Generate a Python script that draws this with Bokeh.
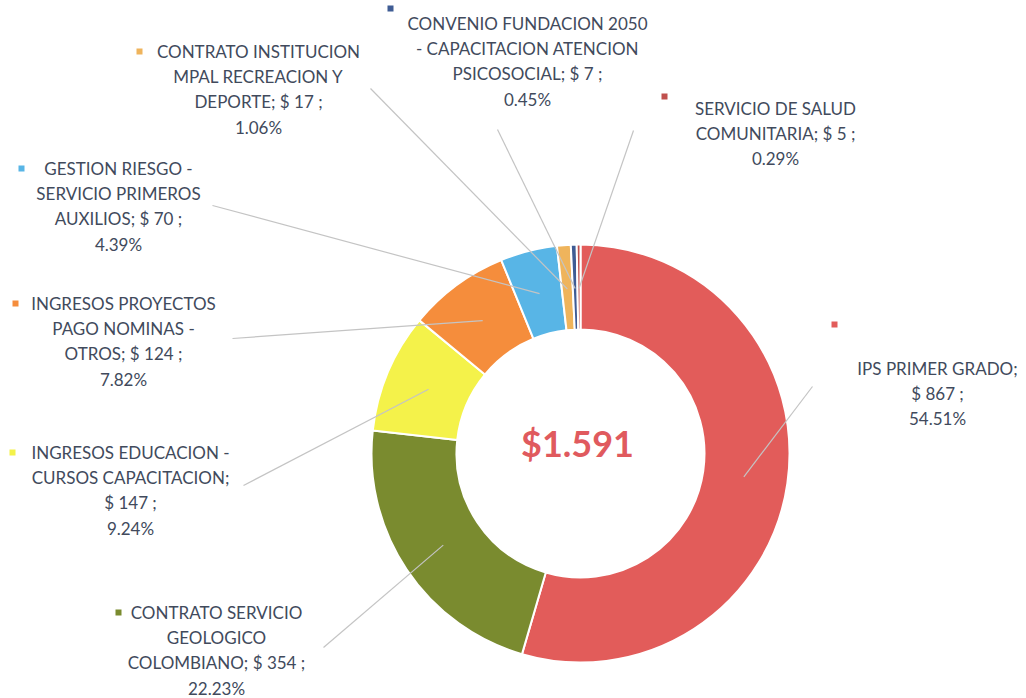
import math
from bokeh.plotting import figure
from bokeh.models import Range1d, ColumnDataSource
from bokeh.core.properties import value
from bokeh.embed import file_html
from bokeh.resources import INLINE

# ---------------- data ----------------
name_lines = [
    ["IPS PRIMER GRADO"],
    ["CONTRATO SERVICIO", "GEOLOGICO", "COLOMBIANO"],
    ["INGRESOS EDUCACION -", "CURSOS CAPACITACION"],
    ["INGRESOS PROYECTOS", "PAGO NOMINAS -", "OTROS"],
    ["GESTION RIESGO -", "SERVICIO PRIMEROS", "AUXILIOS"],
    ["CONTRATO INSTITUCION", "MPAL RECREACION Y", "DEPORTE"],
    ["CONVENIO FUNDACION 2050", "- CAPACITACION ATENCION", "PSICOSOCIAL"],
    ["SERVICIO DE SALUD", "COMUNITARIA"],
]
categories = [" ".join(n) for n in name_lines]
values = [867, 354, 147, 124, 70, 17, 7, 5]
percents = [54.51, 22.23, 9.24, 7.82, 4.39, 1.06, 0.45, 0.29]
total_label = "$1.591"
colors = ["#E25C5A", "#7A8B2F", "#F4F24A", "#F58D3C", "#58B5E6", "#EFB45C", "#3F5C94", "#C0504D"]

# ---------------- layout ----------------
W, H = 1026, 698
CX, CY = 580, 453          # donut centre (page px, y down)
R_OUT, R_IN = 209, 124
R_LEAD = 165
value_newline = [True, False, True, False, False, False, False, False]
# label block: centre x, first line y, marker x, marker y, leader anchor x, y
label_layout = [
    (937, 368, 834, 324, 812, 386),
    (216, 612, 118, 612, 323, 647),
    (130, 452, 12, 452, 243, 485),
    (123, 303, 15, 303, 232, 338),
    (118, 168, 21, 168, 212, 205),
    (258, 51, 139, 51, 370, 88),
    (527, 23, 390, 8, 497, 129),
    (775, 108, 664, 96, 633, 130),
]
LINE_H = 25.2

def Y(y):
    return H - y

p = figure(width=W, height=H, output_backend="svg", toolbar_location=None,
           x_range=Range1d(0, W), y_range=Range1d(0, H),
           min_border=0)
p.axis.visible = False
p.grid.visible = False
p.outline_line_color = None
p.background_fill_color = "white"
p.border_fill_color = "white"

tot = sum(percents)
starts, ends, mids = [], [], []
cum = 0.0
for pc in percents:
    a0 = math.pi / 2 - 2 * math.pi * cum / tot
    cum += pc
    a1 = math.pi / 2 - 2 * math.pi * cum / tot
    starts.append(a0)
    ends.append(a1)
    mids.append((a0 + a1) / 2)

src = ColumnDataSource(dict(x=[CX] * len(values), y=[Y(CY)] * len(values),
                            start=starts, end=ends, color=colors))
p.annular_wedge(x="x", y="y", inner_radius=R_IN, outer_radius=R_OUT,
                start_angle="start", end_angle="end", direction="clock",
                fill_color="color", line_color="white", line_width=2, source=src)

# leader lines
lx0, ly0, lx1, ly1 = [], [], [], []
for i, m in enumerate(mids):
    ax, ay = label_layout[i][4], label_layout[i][5]
    lx0.append(ax)
    ly0.append(Y(ay))
    lx1.append(CX + R_LEAD * math.cos(m))
    ly1.append(Y(CY) + R_LEAD * math.sin(m))
p.segment(lx0, ly0, lx1, ly1, line_color="#c4c4c4", line_width=1.2)

# labels
tx, ty, tt = [], [], []
for i in range(len(values)):
    lines = list(name_lines[i])
    vtxt = f"$ {values[i]} ;"
    if value_newline[i]:
        lines[-1] = lines[-1] + ";"
        lines.append(vtxt)
    else:
        lines[-1] = lines[-1] + "; " + vtxt
    lines.append(f"{percents[i]:.2f}%")
    cxl, y0 = label_layout[i][0], label_layout[i][1]
    for k, ln in enumerate(lines):
        tx.append(cxl)
        ty.append(Y(y0 + k * LINE_H))
        tt.append(ln)
p.text(tx, ty, text=tt, text_font=value("Lato"), text_font_size="17px",
       text_color="#414a5c", text_align="center", text_baseline="middle")

# legend keys
mx = [l[2] for l in label_layout]
my = [Y(l[3]) for l in label_layout]
p.scatter(mx, my, marker="square", size=6, fill_color=colors, line_color=None)

# centre total
p.text([CX - 3], [Y(442)], text=[total_label], text_font=value("Lato"),
       text_font_size="36px", text_font_style="bold", text_color="#E05A5E",
       text_align="center", text_baseline="middle")

open("out.html", "w").write(file_html(p, INLINE))
